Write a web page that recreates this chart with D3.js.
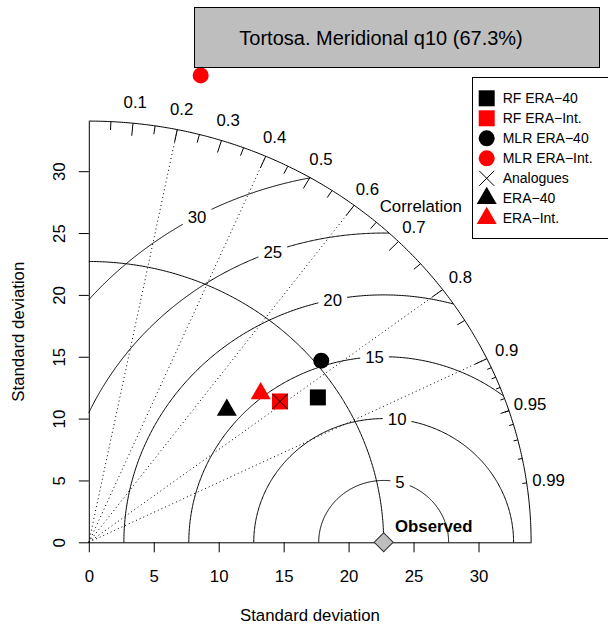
<!DOCTYPE html>
<html><head><meta charset="utf-8">
<script src="https://cdn.jsdelivr.net/npm/d3@7"></script>
<style>
body{margin:0;background:#fff}
svg{display:block}
text{font-family:"Liberation Sans",Arial,Helvetica,sans-serif;fill:#000}
</style>
</head><body>
<svg id="chart" width="608" height="624"></svg>
<script>
// ---------------- data ----------------
const chartTitle = "Tortosa. Meridional q10 (67.3%)";
const refSD = 22.7;                       // observed standard deviation
const seriesNames = ["RF ERA\u221240", "RF ERA\u2212Int.", "MLR ERA\u221240", "MLR ERA\u2212Int.", "Analogues", "ERA\u221240", "ERA\u2212Int."];
const seriesSD  = [21.17, 18.61, 23.15, 38.71, 18.61, 15.07, 17.88];
const seriesCor = [0.833, 0.791, 0.773, 0.2225, 0.791, 0.705, 0.740];
const sdTicks = [0, 5, 10, 15, 20, 25, 30];
const rmsLevels = [5, 10, 15, 20, 25, 30];
const corMajor = [0.1, 0.2, 0.3, 0.4, 0.5, 0.6, 0.7, 0.8, 0.9];
const corMedium = [0.05, 0.15, 0.25, 0.35, 0.45, 0.55, 0.65, 0.75, 0.85, 0.95];
const corMinor = [0.91, 0.92, 0.93, 0.94, 0.95, 0.96, 0.97, 0.98, 0.99];
const corLabels = [0.1, 0.2, 0.3, 0.4, 0.5, 0.6, 0.7, 0.8, 0.9, 0.95, 0.99];
const corGrid = [0.2, 0.4, 0.6, 0.8, 0.9];

// ---------------- styles ----------------
const seriesColor = ["#000", "#ff0000", "#000", "#ff0000", "#000", "#000", "#ff0000"];
const seriesShape = ["square", "square", "circle", "circle", "cross", "triangle", "triangle"];
const FONT = 16.8;

const maxSD = 1.5 * refSD;
const svg = d3.select("#chart");

const x = d3.scaleLinear().domain([0, maxSD]).range([88.8, 88.8 + 12.99 * maxSD]);
const y = d3.scaleLinear().domain([0, maxSD]).range([542.3, 542.3 - 12.37 * maxSD]);

const line = d3.line();
function arc(cx, r, t0, t1, n = 300) {
  return line(d3.range(n + 1).map(i => {
    const t = t0 + (t1 - t0) * i / n;
    return [x(cx + r * Math.cos(t)), y(r * Math.sin(t))];
  }));
}
const polar = (r, c) => [x(r * c), y(r * Math.sqrt(Math.max(0, 1 - c * c)))];

const g = svg.append("g");

// correlation grid lines (dotted)
g.selectAll(".cgrid").data(corGrid).join("line")
  .attr("x1", x(0)).attr("y1", y(0))
  .attr("x2", c => polar(maxSD, c)[0]).attr("y2", c => polar(maxSD, c)[1])
  .attr("stroke", "#000").attr("stroke-width", 1).attr("stroke-dasharray", "1,3");

// RMS contours
const rmsG = g.append("g");
rmsLevels.forEach(lev => {
  let c = (maxSD * maxSD - refSD * refSD - lev * lev) / (2 * refSD * lev);
  const t0 = c >= 1 ? 0 : Math.acos(Math.max(-1, c));
  const t1 = lev > refSD ? Math.acos(-refSD / lev) : Math.PI;
  rmsG.append("path").attr("d", arc(refSD, lev, t0, t1))
    .attr("fill", "none").attr("stroke", "#000").attr("stroke-width", 1);
});

// reference sd arc and outer arc
g.append("path").attr("d", arc(0, refSD, 0, Math.PI / 2)).attr("fill", "none").attr("stroke", "#000");
g.append("path").attr("d", arc(0, maxSD, 0, Math.PI / 2)).attr("fill", "none").attr("stroke", "#000");

// correlation ticks
function ticks(vals, k) {
  g.append("g").selectAll("line").data(vals).join("line")
    .attr("x1", c => polar(maxSD, c)[0]).attr("y1", c => polar(maxSD, c)[1])
    .attr("x2", c => polar(k * maxSD, c)[0]).attr("y2", c => polar(k * maxSD, c)[1])
    .attr("stroke", "#000").attr("stroke-width", 1);
}
ticks(corMajor, 0.97);
ticks(corMedium, 0.98);
ticks(corMinor, 0.99);

g.append("g").selectAll("text").data(corLabels).join("text")
  .attr("x", c => polar(1.05 * maxSD, c)[0]).attr("y", c => polar(1.05 * maxSD, c)[1])
  .attr("dy", "0.36em").attr("text-anchor", "middle").attr("font-size", FONT)
  .text(d => String(d));

g.append("text").attr("x", 420.8).attr("y", 211.7).attr("text-anchor", "middle")
  .attr("font-size", FONT).text("Correlation");

// RMS labels (boxed)
const labAngle = d3.scaleLinear().domain([0, rmsLevels.length - 1]).range([75.4, 118.6]);
rmsLevels.forEach((lev, i) => {
  const a = labAngle(i) * Math.PI / 180;
  const px = x(refSD + lev * Math.cos(a)), py = y(lev * Math.sin(a));
  const t = g.append("text").attr("x", px).attr("y", py).attr("dy", "0.36em")
    .attr("text-anchor", "middle").attr("font-size", FONT).text(lev);
  const w = t.node().getComputedTextLength();
  g.insert("rect", () => t.node()).attr("x", px - w / 2 - 5).attr("y", py - 10)
    .attr("width", w + 10).attr("height", 20).attr("fill", "#fff");
});

// axes
const xAxis = d3.axisBottom(x).tickValues(sdTicks).tickSize(10).tickSizeOuter(0).tickPadding(17.7);
const gx = svg.append("g").attr("transform", `translate(0,${y(0)})`).call(xAxis);
gx.selectAll("text").attr("font-size", FONT).attr("font-family", null);
gx.selectAll("path,line").attr("stroke", "#000");

const yAxis = d3.axisLeft(y).tickValues(sdTicks).tickSize(10).tickSizeOuter(0);
const gy = svg.append("g").attr("transform", `translate(${x(0)},0)`).call(yAxis);
gy.selectAll("text").attr("font-size", FONT).attr("font-family", null)
  .attr("x", null).attr("dy", null).attr("text-anchor", "middle")
  .attr("transform", "translate(-24,0) rotate(-90)");
gy.selectAll("path,line").attr("stroke", "#000");
svg.selectAll(".domain").attr("stroke", "#000");

svg.append("text").attr("x", (x(0) + x(maxSD)) / 2).attr("y", 621).attr("text-anchor", "middle")
  .attr("font-size", FONT).text("Standard deviation");
svg.append("text").attr("transform", `translate(24,${(y(0) + y(maxSD)) / 2}) rotate(-90)`)
  .attr("text-anchor", "middle").attr("font-size", FONT).text("Standard deviation");

// observed point
svg.append("path").attr("d", d3.symbol(d3.symbolSquare, 180)())
  .attr("transform", `translate(${x(refSD)},${y(0)}) rotate(45)`)
  .attr("fill", "#bebebe").attr("stroke", "#333").attr("stroke-width", 1);
svg.append("text").attr("x", 395).attr("y", 531.7).attr("font-size", FONT)
  .attr("font-weight", "bold").text("Observed");

// markers
function marker(sel, shape, color) {
  if (shape === "cross") {
    sel.append("path").attr("d", "M-7.5,-7.5L7.5,7.5M-7.5,7.5L7.5,-7.5")
      .attr("stroke", color).attr("stroke-width", 1).attr("fill", "none");
  } else {
    const sym = shape === "square" ? d3.symbolSquare : shape === "circle" ? d3.symbolCircle : d3.symbolTriangle;
    const size = shape === "square" ? 256 : shape === "circle" ? 201 : 173;
    sel.append("path").attr("d", d3.symbol(sym, size)()).attr("fill", color);
  }
}
seriesNames.forEach((n, i) => {
  const [px, py] = polar(seriesSD[i], seriesCor[i]);
  marker(svg.append("g").attr("transform", `translate(${px},${py})`), seriesShape[i], seriesColor[i]);
});

// title box
svg.append("rect").attr("x", 194.5).attr("y", 7.5).attr("width", 405).attr("height", 60)
  .attr("fill", "#bebebe").attr("stroke", "#000").attr("stroke-width", 1);
svg.append("text").attr("x", 239.3).attr("y", 45).attr("font-size", 20).text(chartTitle);

// legend
svg.append("rect").attr("x", 472.5).attr("y", 77.5).attr("width", 150).attr("height", 161)
  .attr("fill", "#fff").attr("stroke", "#000").attr("stroke-width", 1);
const lg = svg.append("g").selectAll("g").data(seriesNames).join("g")
  .attr("transform", (d, i) => `translate(486.7,${98.3 + 20 * i})`);
lg.each(function (d, i) { marker(d3.select(this), seriesShape[i], seriesColor[i]); });
lg.append("text").attr("x", 16).attr("y", 5).attr("font-size", 14).text(d => d);
</script>
</body></html>
